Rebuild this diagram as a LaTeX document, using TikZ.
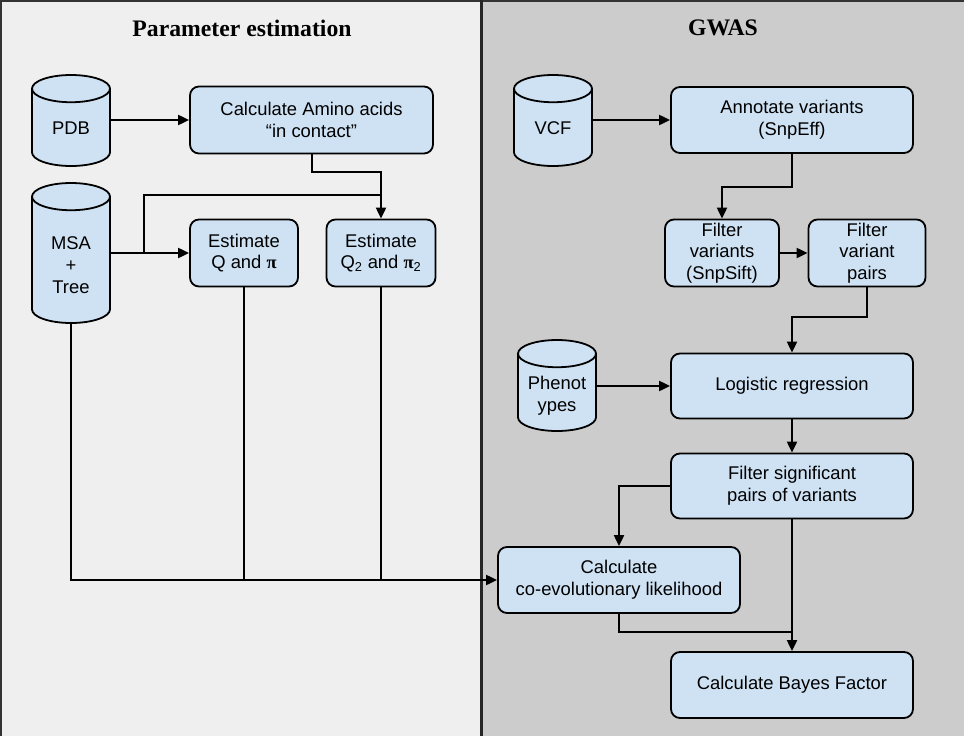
\documentclass[tikz,border=0pt]{standalone}
\usepackage{fontspec}
\setmainfont{Liberation Sans}
\newfontfamily\titlefont{Liberation Serif}
\usetikzlibrary{shapes.geometric,arrows.meta}
\definecolor{boxblue}{HTML}{CFE2F3}
\definecolor{leftbg}{HTML}{EFEFEF}
\definecolor{rightbg}{HTML}{CCCCCC}
\definecolor{frame}{HTML}{333333}
\newcommand\fs{\fontsize{18.4}{21.7}\selectfont}
\newcommand\pisym{{\titlefont\bfseries π}}
\tikzset{
  procbox/.style={draw=black, fill=boxblue, line width=1.8pt, rounded corners=9pt,
    align=center, font=\fs, inner sep=0pt},
  dbcyl/.style={cylinder, shape border rotate=90, aspect=0.72, draw=black, fill=boxblue,
    line width=1.8pt, inner sep=0pt, minimum width=78pt, font=\fs, anchor=shape center},
  cyltext/.style={align=center, font=\fs, inner sep=0pt},
  conn/.style={line width=2pt, draw=black},
  arr/.style={conn, -{Triangle[length=11pt,width=10pt]}},
  paneltitle/.style={font=\titlefont\bfseries\fontsize{23.7}{28}\selectfont, inner sep=0pt}
}
\begin{document}
\begin{tikzpicture}[x=1pt,y=-1pt]
\useasboundingbox (0,0) rectangle (964,736);
% panels
\fill[leftbg] (0,0) rectangle (482,736);
\fill[rightbg] (482,0) rectangle (964,736);
\draw[frame, line width=1.6pt] (0.8,0.8) rectangle (970,740);
\draw[black!85, line width=2.4pt] (481.5,0) -- (481.5,736);
\node[paneltitle] (t1) at (242,28) {Parameter estimation};
\node[paneltitle] (t2) at (723,28) {GWAS};

% left panel
\node[dbcyl, minimum height=91pt] (pdb) at (71,120.5) {\phantom{PDB}};
\node[cyltext] (pdbtxt) at (71,128) {PDB};
\node[procbox, minimum width=243pt, minimum height=67pt] (calc) at (311.5,120)
  {Calculate Amino acids\\“in contact”};
\node[dbcyl, minimum height=140pt] (msa) at (71,253) {\phantom{PDB}};
\node[cyltext] (msatxt) at (71,265) {MSA\\+\\Tree};
\node[procbox, minimum width=108pt, minimum height=67pt] (estq) at (244,253)
  {Estimate\\Q and \pisym};
\node[procbox, minimum width=109pt, minimum height=67pt] (estq2) at (381,253)
  {Estimate\\Q\textsubscript{2} and \pisym\textsubscript{2}};

% right panel
\node[dbcyl, minimum height=91pt] (vcf) at (553,120.5) {\phantom{PDB}};
\node[cyltext] (vcftxt) at (553,128) {VCF};
\node[procbox, minimum width=242pt, minimum height=66pt] (annot) at (792,120)
  {Annotate variants\\(SnpEff)};
\node[procbox, minimum width=114pt, minimum height=67pt] (fv) at (722,253)
  {Filter\\variants\\(SnpSift)};
\node[procbox, minimum width=117pt, minimum height=67pt] (fvp) at (867,253)
  {Filter\\variant\\pairs};
\node[dbcyl, minimum height=91pt] (pheno) at (557,385.5) {\phantom{PDB}};
\node[cyltext] (phenotxt) at (557,395.5) {Phenot\\ypes};
\node[procbox, minimum width=242pt, minimum height=65pt] (logit) at (792,386)
  {Logistic regression};
\node[procbox, minimum width=242pt, minimum height=65pt] (fsig) at (792,486)
  {Filter significant\\pairs of variants};
\node[procbox, minimum width=242pt, minimum height=66pt] (coevo) at (619,580)
  {Calculate\\co-evolutionary likelihood};
\node[procbox, minimum width=242pt, minimum height=66pt] (bayes) at (792,685)
  {Calculate Bayes Factor};

% junction coordinates
\coordinate (jcalc) at (311.5,172);
\coordinate (jmsa) at (144,253);
\coordinate (jtop) at (381,195);
\coordinate (jann) at (792,187);
\coordinate (jfvp) at (867,317);
\coordinate (jco) at (619,632);
\coordinate (jbay) at (792,632);

% left connectors
\draw[arr] (pdb.east |- calc.west) -- (calc.west);
\draw[arr] (calc.south) -- (jcalc) -| (estq2.north);
\draw[arr] (msa.east |- estq.west) -- (estq.west);
\draw[conn] (msa.east |- jmsa) -- (jmsa) -- (jmsa |- jtop) -- (jtop);
\draw[arr] (msa.south) |- (coevo.west);
\draw[conn] (estq.south) -- (estq.south |- coevo.west);
\draw[conn] (estq2.south) -- (estq2.south |- coevo.west);

% right connectors
\draw[arr] (vcf.east |- annot.west) -- (annot.west);
\draw[arr] (annot.south) -- (jann) -| (fv.north);
\draw[arr] (fv.east) -- (fvp.west);
\draw[arr] (fvp.south) -- (jfvp) -| (logit.north);
\draw[arr] (pheno.east |- logit.west) -- (logit.west);
\draw[arr] (logit.south) -- (fsig.north);
\draw[arr] (fsig.west) -| (coevo.north);
\draw[arr] (fsig.south) -- (bayes.north);
\draw[conn] (coevo.south) -- (jco) -- (jbay);
\end{tikzpicture}
\end{document}
